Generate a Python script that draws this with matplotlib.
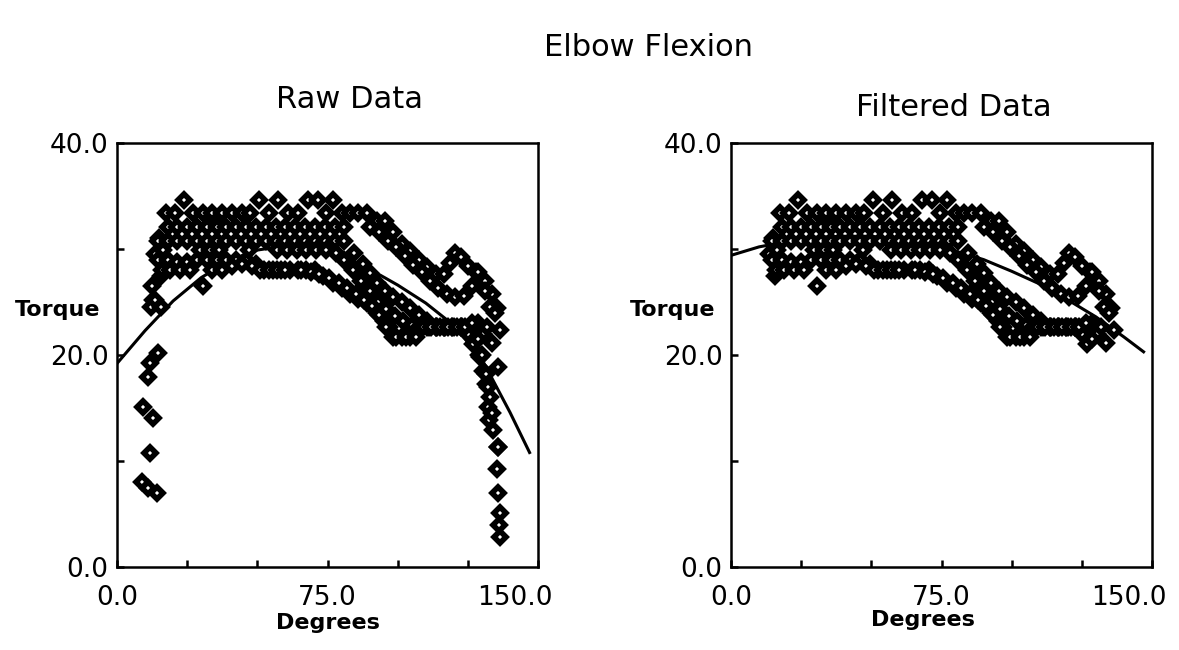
import matplotlib
matplotlib.use("Agg")
import matplotlib.pyplot as plt
import matplotlib.transforms as mtransforms

# Raw torque samples, one list pair per trial (degrees, torque)
trial1_deg = [11.8, 14.6, 15.5, 17.5, 20.5, 24.0, 27.0, 30.5, 34.0, 37.5, 41.0, 44.5, 47.5, 50.5, 54.0,
              57.5, 61.0, 64.5, 68.0, 71.5, 74.5, 77.0, 80.0, 83.0, 86.0, 89.0, 92.5, 95.5, 98.5, 101.5,
              104.5, 107.5, 110.5, 113.5, 116.5, 118.5, 120.5, 122.5, 125.0, 128.0, 131.0, 133.5, 135.5,
              136.5, 135.7, 136.4]
trial1_torque = [10.8, 20.2, 27.5, 33.4, 33.4, 34.6, 33.4, 33.4, 33.4, 33.4, 33.4, 33.4, 33.4, 34.6, 33.4,
                 34.6, 33.4, 33.4, 34.6, 34.6, 33.4, 34.6, 33.4, 33.4, 33.4, 33.4, 32.6, 32.6, 31.6, 30.5,
                 29.8, 29.0, 28.3, 27.6, 27.6, 28.7, 29.6, 29.2, 28.4, 27.8, 27.0, 25.8, 24.4,
                 22.4, 11.3, 5.1]

trial2_deg = [8.9, 11.8, 13.0, 15.0, 18.0, 21.5, 25.0, 28.5, 32.0, 35.5, 39.0, 42.5, 46.0, 49.5, 53.0,
              56.5, 60.0, 63.5, 67.0, 70.5, 74.0, 77.5, 81.0, 90.0, 93.5, 96.5, 99.5, 102.5, 105.5, 108.5,
              111.5, 114.5, 117.5, 120.5, 123.5, 126.5, 128.5, 131.0, 133.0, 134.7, 135.7, 135.4, 136.4]
trial2_torque = [8.0, 19.2, 25.2, 31.0, 32.1, 32.1, 32.1, 32.1, 32.1, 32.1, 32.1, 32.1, 32.1, 32.1, 32.1,
                 32.1, 32.1, 32.1, 32.1, 32.1, 32.1, 32.1, 32.1, 32.1, 31.6, 30.8, 30.2, 29.3, 28.5, 27.8,
                 27.0, 26.3, 25.8, 25.5, 25.6, 26.5, 27.8, 26.0, 24.5, 24.0, 18.9, 9.2, 2.8]

trial3_deg = [11.0, 12.5, 14.5, 18.0, 21.5, 25.0, 28.5, 32.0, 35.5, 39.0, 42.5, 46.0, 49.5, 53.0, 56.5,
              60.0, 63.5, 67.0, 70.5, 74.0, 77.5, 81.0, 84.5, 87.5, 90.0, 92.5, 95.5, 98.5, 101.5, 104.5,
              107.5, 110.5, 113.5, 116.5, 119.5, 122.5, 125.5, 128.0, 129.5, 131.5, 132.2, 134.0]
trial3_torque = [17.9, 26.5, 30.8, 30.8, 30.8, 30.8, 30.8, 30.8, 30.8, 30.8, 30.8, 30.8, 30.8, 30.8, 30.8,
                 30.8, 30.8, 30.8, 30.8, 30.8, 30.8, 30.8, 29.6, 28.6, 27.7, 26.8, 26.0, 25.5, 25.0, 24.4,
                 23.8, 23.2, 22.6, 22.6, 22.6, 22.6, 22.6, 21.8, 19.8, 17.3, 15.1, 12.9]

trial4_deg = [9.3, 12.0, 13.5, 16.5, 29.5, 33.0, 36.5, 47.0, 57.0, 60.5, 64.0, 67.5, 71.0, 74.5, 78.0,
              81.0, 84.0, 87.0, 90.0, 93.0, 96.0, 99.0, 102.0, 105.0, 108.0, 111.0, 114.0, 117.0, 120.0,
              123.0, 126.0, 128.5, 130.5, 131.8, 133.6, 132.7, 135.7]
trial4_torque = [15.1, 24.5, 29.5, 29.9, 29.9, 29.9, 29.9, 29.9, 29.9, 29.9, 29.9, 29.9, 29.9, 29.9, 29.6,
                 29.0, 28.0, 27.0, 26.0, 25.0, 24.3, 23.7, 23.2, 22.8, 22.6, 22.6, 22.6, 22.6, 22.6,
                 22.6, 22.6, 23.0, 22.0, 22.6, 21.1, 13.9, 7.0]

trial5_deg = [11.0, 12.8, 13.5, 14.5, 18.0, 21.5, 25.0, 28.5, 32.0, 35.5, 39.0, 42.5, 46.0, 49.5, 52.5,
              55.5, 58.5, 61.5, 64.5, 67.5, 70.5, 73.5, 77.0, 80.0, 83.0, 86.0, 89.0, 92.5, 95.0, 97.0,
              98.5, 101.5, 104.5, 107.5, 110.5, 113.5, 116.5, 119.5, 122.5, 125.0, 127.0, 129.0, 130.5,
              132.2, 133.0, 135.7]
trial5_torque = [7.5, 14.1, 25.2, 29.0, 29.0, 28.8, 28.8, 29.0, 29.0, 29.0, 29.0, 29.0, 29.0, 28.6, 28.0,
                 28.0, 28.0, 28.0, 28.0, 28.0, 28.0, 27.5, 26.8, 26.3, 25.8, 25.3, 24.9, 24.0, 23.2, 22.6,
                 21.7, 21.7, 21.7, 22.6, 22.6, 22.6, 22.6, 22.6, 22.6, 22.0, 21.0, 20.0, 18.5,
                 17.0, 16.0, 11.3]

trial6_deg = [14.2, 15.5, 16.0, 19.0, 22.5, 26.0, 30.6, 34.0, 37.5, 41.0, 44.5, 48.0, 51.0, 54.0, 57.0,
              60.0, 65.5, 69.0, 72.0, 75.5, 79.0, 82.0, 85.0, 88.0, 91.0, 93.5, 96.0, 99.5, 103.0, 106.5,
              109.0, 112.0, 115.0, 118.0, 121.0, 124.0, 126.5, 128.5, 130.0, 131.5, 133.5, 136.0]
trial6_torque = [7.0, 24.5, 28.0, 28.0, 28.0, 28.0, 26.5, 28.0, 28.0, 28.4, 28.6, 28.4, 28.0, 28.0, 28.0,
                 28.0, 28.0, 27.8, 27.6, 27.3, 26.8, 26.3, 25.8, 25.2, 24.6, 23.8, 22.6, 21.7, 21.7, 21.7,
                 22.6, 22.6, 22.6, 22.6, 22.6, 22.6, 23.0, 21.5, 20.0, 18.2, 14.5, 4.0]

trials = [(trial1_deg, trial1_torque), (trial2_deg, trial2_torque), (trial3_deg, trial3_torque),
          (trial4_deg, trial4_torque), (trial5_deg, trial5_torque), (trial6_deg, trial6_torque)]

# filter: keep from first sample on the plateau to last sample above the cut-off
PLATEAU_START = 27.5
END_CUTOFF = 20.5

# fitted curves
fit_deg = [0, 10, 20, 30, 40, 50, 60, 70, 80, 90, 100, 110, 120, 130, 140, 147]
fit_raw = [19.2, 22.3, 25.1, 27.3, 28.9, 29.9, 30.3, 30.1, 29.4, 28.1, 26.6, 24.9, 22.8, 19.6, 14.6, 10.8]
fit_filtered = [29.4, 30.2, 30.7, 31.1, 31.2, 31.2, 30.9, 30.5, 29.8, 29.0, 27.9, 26.7, 25.2, 23.6, 21.7, 20.3]

x_ticks = [0, 25, 50, 75, 100, 125, 150]
x_labels = ["0.0", "", "", "75.0", "", "", "150.0"]
y_ticks = [0, 10, 20, 30, 40]
y_labels = ["0.0", "", "20.0", "", "40.0"]


def filter_trial(deg, torque):
    start = next(i for i, t in enumerate(torque) if t >= PLATEAU_START)
    end = max(i for i, t in enumerate(torque) if t >= END_CUTOFF)
    return deg[start:end + 1], torque[start:end + 1]


def style_axes(ax, fig):
    ax.set_xlim(0, 150)
    ax.set_ylim(0, 40)
    for s in ax.spines.values():
        s.set_linewidth(1.8)
    ax.set_xticks(x_ticks)
    ax.set_xticklabels(x_labels, fontsize=19)
    ax.set_yticks(y_ticks)
    ax.set_yticklabels(y_labels, fontsize=19)
    ax.tick_params(direction="in", length=5, width=1.8)
    ax.tick_params(axis="x", pad=13)
    ax.tick_params(axis="y", pad=6)
    # last x label sits a bit left of its tick in the original
    lab = ax.get_xticklabels()[-1]
    lab.set_transform(lab.get_transform() + mtransforms.ScaledTranslation(-0.23, 0, fig.dpi_scale_trans))


def draw_points(ax, deg, torque):
    ax.plot(deg, torque, ls="none", marker="D", ms=6.2, mfc="white", mec="black", mew=4.0, zorder=3)


fig = plt.figure(figsize=(11.79, 6.5), dpi=100)
ax1 = fig.add_axes([117 / 1179, 83 / 650, 421 / 1179, 424 / 650])
ax2 = fig.add_axes([731 / 1179, 83 / 650, 421 / 1179, 424 / 650])

ax1.plot(fit_deg, fit_raw, color="black", lw=2.2, zorder=2)
for deg, torque in trials:
    draw_points(ax1, deg, torque)

ax2.plot(fit_deg, fit_filtered, color="black", lw=2.2, zorder=2)
for deg, torque in trials:
    fd, ft = filter_trial(deg, torque)
    draw_points(ax2, fd, ft)

style_axes(ax1, fig)
style_axes(ax2, fig)

fig.text(648 / 1179, 1 - 48 / 650, "Elbow Flexion", ha="center", va="center", fontsize=22)
fig.text(350 / 1179, 1 - 100 / 650, "Raw Data", ha="center", va="center", fontsize=22)
fig.text(954 / 1179, 1 - 108 / 650, "Filtered Data", ha="center", va="center", fontsize=22)
fig.text(100 / 1179, 1 - 310 / 650, "Torque", ha="right", va="center", fontsize=16, fontweight="bold")
fig.text(715 / 1179, 1 - 310 / 650, "Torque", ha="right", va="center", fontsize=16, fontweight="bold")
fig.text(328 / 1179, 1 - 623 / 650, "Degrees", ha="center", va="center", fontsize=16, fontweight="bold")
fig.text(923 / 1179, 1 - 620 / 650, "Degrees", ha="center", va="center", fontsize=16, fontweight="bold")

fig.savefig("out.png", dpi=100)
